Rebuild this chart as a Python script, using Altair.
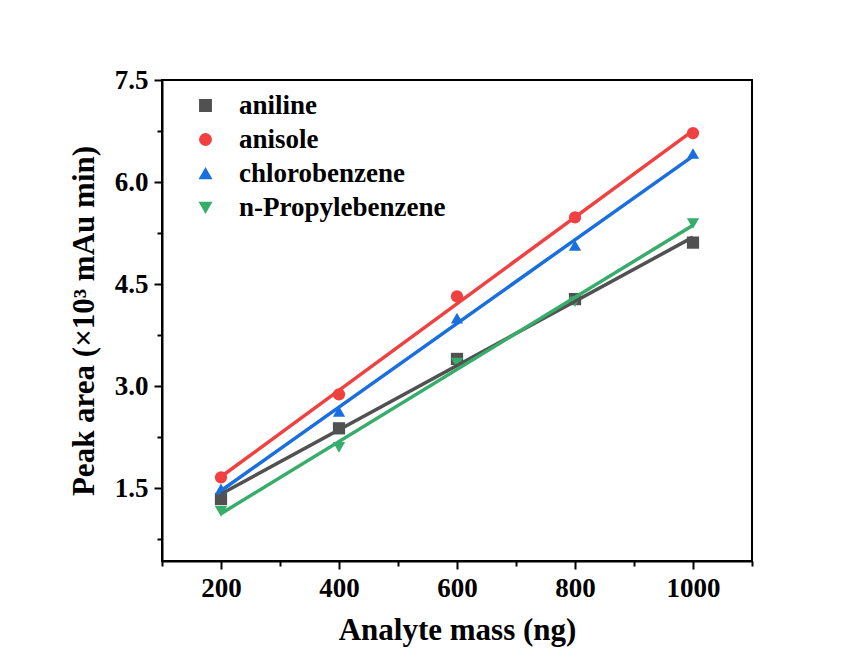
import altair as alt
import pandas as pd

compounds = ["aniline", "anisole", "chlorobenzene", "n-Propylebenzene"]
mass = [200, 400, 600, 800, 1000]
aniline = [1.34, 2.38, 3.40, 4.28, 5.11]
anisole = [1.66, 2.88, 4.32, 5.48, 6.72]
chlorobenzene = [1.49, 2.63, 4.00, 5.07, 6.42]
propylbenzene = [1.16, 2.10, 3.34, 4.24, 5.39]

colors = ["#515151", "#F14040", "#1A6FDF", "#37AD6B"]
shapes = ["square", "circle", "triangle-up", "triangle-down"]

x_major = [200, 400, 600, 800, 1000]
x_minor = [100, 300, 500, 700, 900, 1100]
y_major = [1.5, 3.0, 4.5, 6.0, 7.5]
y_minor = [0.75, 2.25, 3.75, 5.25, 6.75]

rows = []
for name, vals in zip(compounds, [aniline, anisole, chlorobenzene, propylbenzene]):
    for m, v in zip(mass, vals):
        rows.append({"compound": name, "mass": m, "area": v})
df = pd.DataFrame(rows)

FONT = "Liberation Serif"
xscale = alt.Scale(domain=[100, 1100], nice=False, zero=False)
yscale = alt.Scale(domain=[0.43, 7.5], nice=False, zero=False)

base = alt.Chart(df)

points = base.mark_point(filled=True, opacity=1, size=150).encode(
    x=alt.X("mass:Q", scale=xscale, title="Analyte mass (ng)",
            axis=alt.Axis(values=x_major, format="d", orient="bottom", tickSize=8,
                          labelPadding=6, titlePadding=14, grid=False)),
    y=alt.Y("area:Q", scale=yscale, title="Peak area (×10³ mAu min)",
            axis=alt.Axis(values=y_major, format=".1f", orient="left", tickSize=8,
                          labelPadding=6, titlePadding=14, grid=False)),
    color=alt.Color("compound:N", scale=alt.Scale(domain=compounds, range=colors),
                    legend=alt.Legend(title=None)),
    shape=alt.Shape("compound:N", scale=alt.Scale(domain=compounds, range=shapes),
                    legend=alt.Legend(title=None)),
)

lines = base.transform_regression("mass", "area", groupby=["compound"]).mark_line(
    strokeWidth=3.5
).encode(
    x=alt.X("mass:Q", scale=xscale, title=None,
            axis=alt.Axis(values=x_minor, orient="bottom", tickSize=5, labels=False,
                          domain=False, grid=False, title=None)),
    y=alt.Y("area:Q", scale=yscale, title=None,
            axis=alt.Axis(values=y_minor, orient="left", tickSize=5, labels=False,
                          domain=False, grid=False, title=None)),
    stroke=alt.Stroke("compound:N", scale=alt.Scale(domain=compounds, range=colors),
                      legend=None),
)

chart = alt.layer(points, lines).resolve_axis(
    x="independent", y="independent"
).properties(
    width=590, height=481,
    autosize=alt.AutoSizeParams(type="none"),
    padding={"left": 154, "top": 72, "right": 100, "bottom": 92},
    background="white",
).configure_view(
    stroke="black", strokeWidth=2
).configure_axis(
    domainColor="black", domainWidth=2, tickColor="black", tickWidth=2,
    labelFont=FONT, labelFontSize=27, labelFontWeight="bold", labelColor="black",
    titleFont=FONT, titleFontSize=31, titleFontWeight="bold", titleColor="black",
).configure_legend(
    orient="none", legendX=30, legendY=12, symbolSize=130, labelFontSize=27,
    labelFont=FONT, labelFontWeight="bold", labelColor="black", rowPadding=6,
    labelOffset=20, padding=0, labelLimit=500,
)

chart.save("out.html", embed_options={"renderer": "svg", "actions": False})
